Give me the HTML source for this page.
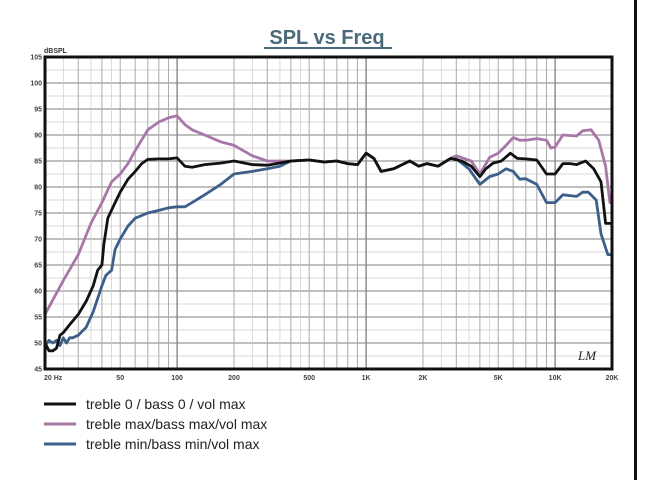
<!DOCTYPE html>
<html><head><meta charset="utf-8"><style>
body{margin:0;background:#fff;width:666px;height:480px;overflow:hidden}
svg{display:block}
</style></head><body>
<svg id="s" width="666" height="480" xmlns="http://www.w3.org/2000/svg" font-family="Liberation Sans, sans-serif">
<rect width="666" height="480" fill="#fff"/>
<rect x="634" y="0" width="3" height="480" fill="#111"/>
<text x="327" y="44" text-anchor="middle" font-size="20" font-weight="bold" fill="#4a6a7a">SPL vs Freq</text>
<rect x="264" y="47" width="128" height="2" fill="#4a6a7a"/>
<g id="grid"></g>
<g id="curves"></g>
<rect x="45" y="57" width="567" height="312" fill="none" stroke="#111" stroke-width="3"/>
<text x="44" y="53" font-size="7" font-weight="bold" fill="#333">dBSPL</text>
<g id="lab" font-size="7" font-weight="bold" fill="#444"></g>
<line x1="44" y1="404" x2="76" y2="404" stroke="#111" stroke-width="3"/>
<line x1="44" y1="424" x2="76" y2="424" stroke="#a877a8" stroke-width="3"/>
<line x1="44" y1="444" x2="76" y2="444" stroke="#3d5f8a" stroke-width="3"/>
<text x="86" y="409" font-size="14" fill="#222">treble 0 / bass 0  / vol max</text>
<text x="86" y="429" font-size="14" fill="#222">treble max/bass max/vol max</text>
<text x="86" y="449" font-size="14" fill="#222">treble min/bass min/vol max</text>
<text x="578" y="360" font-size="13" font-style="italic" fill="#222" font-family="Liberation Serif, serif">LM</text>
</svg>
<script>
const NS="http://www.w3.org/2000/svg";
const X=f=>45+189*Math.log10(f/20), Y=d=>57+(105-d)*26/5;
const g=document.getElementById('grid'),lab=document.getElementById('lab'),cv=document.getElementById('curves');
function el(p,t,a,txt){const e=document.createElementNS(NS,t);for(const k in a)e.setAttribute(k,a[k]);if(txt)e.textContent=txt;p.appendChild(e);return e;}
for(let d=47.5;d<105;d+=2.5){const major=d%5==0;el(g,'line',{x1:45,x2:612,y1:Y(d),y2:Y(d),stroke:major?'#999':'#ccc','stroke-width':major?1.2:0.8});}
for(let dec of [10,100,1000,10000])for(let m=1;m<10;m++){const f=dec*m;if(f<20||f>20000)continue;el(g,'line',{x1:X(f),x2:X(f),y1:57,y2:369,stroke:m==1?'#888':'#aaa','stroke-width':m==1?1.4:1});
 [15,25,35,45].forEach(h=>{if(f*1.5/1<=20000&&m<5){}});}
[25,35,45,250,350,450,2500,3500,4500].forEach(f=>el(g,'line',{x1:X(f),x2:X(f),y1:57,y2:369,stroke:'#ccc','stroke-width':0.7}));
for(let d=45;d<=105;d+=5)el(lab,'text',{x:42,y:Y(d)+2.5,'text-anchor':'end'},d);
[[20,'20  Hz'],[50,'50'],[100,'100'],[200,'200'],[500,'500'],[1000,'1K'],[2000,'2K'],[5000,'5K'],[10000,'10K'],[20000,'20K']].forEach(([f,t])=>el(lab,'text',{x:f==20?44:X(f),y:380,'text-anchor':f==20?'start':'middle'},t));
const mid=[[400,85],[500,85.2],[600,84.8],[700,85],[800,84.5],[900,84.3],[1000,86.5],[1100,85.5],[1200,83],[1400,83.5],[1700,85],[1900,84],[2100,84.5],[2400,84],[2800,85.5]];
const black=[[20,50],[21,48.5],[22,48.5],[23,49],[24,51.5],[25,52],[27,53.5],[30,55.5],[33,58],[36,61],[38,64],[40,65],[41,69],[43,74],[47,77],[50,79],[55,81.5],[60,83],[65,84.5],[70,85.3],[80,85.4],[90,85.4],[100,85.6],[110,84],[120,83.8],[140,84.3],[170,84.6],[200,85],[250,84.3],[300,84.2],...mid,[3200,85],[3600,84],[4000,82],[4300,83.5],[4700,84.6],[5200,85],[5800,86.5],[6300,85.5],[7000,85.4],[8000,85.2],[9000,82.5],[10000,82.5],[11000,84.5],[12000,84.5],[13000,84.3],[14500,85],[16000,83.5],[17500,81],[18500,73],[20000,73]];
const purple=[[20,55.5],[25,62],[30,67],[35,73],[40,77],[45,81],[50,82.5],[55,84.5],[60,87],[70,91],[80,92.5],[90,93.3],[100,93.7],[110,92],[120,91],[140,90],[170,88.7],[200,88],[250,86],[300,85],...mid,[3000,86],[3600,85],[4000,82.5],[4500,85.7],[5000,86.5],[5500,88],[6000,89.5],[6500,89],[7000,89],[8000,89.3],[9000,89],[9500,87.5],[10000,87.7],[11000,90],[13000,89.8],[14000,90.8],[15500,91],[17000,89],[18500,84],[19500,77],[20000,77]];
const blue=[[20,49.5],[21,50.5],[22,50],[23,50.5],[24,49.5],[25,51],[26,50],[27,51],[28,51],[30,51.5],[33,53],[36,56],[40,61],[42,63],[45,64],[47,68],[50,70],[55,72.5],[60,74],[70,75],[80,75.5],[90,76],[100,76.2],[110,76.2],[120,77],[140,78.5],[170,80.5],[200,82.5],[250,83],[300,83.5],[350,84],...mid,[3000,85.4],[3500,83.5],[4000,80.5],[4500,82],[5000,82.5],[5500,83.5],[6000,83],[6500,81.5],[7000,81.6],[8000,80.5],[9000,77],[10000,77],[11000,78.5],[13000,78.2],[14000,79],[15000,79],[16500,77.5],[17500,71],[19000,67],[20000,67]];
[[blue,'#3d5f8a'],[purple,'#a877a8'],[black,'#111']].forEach(([d,c])=>el(cv,'path',{d:'M'+d.map(p=>X(p[0]).toFixed(1)+','+Y(p[1]).toFixed(1)).join('L'),fill:'none',stroke:c,'stroke-width':2.8,'stroke-linejoin':'round'}));
</script>
</body></html>
